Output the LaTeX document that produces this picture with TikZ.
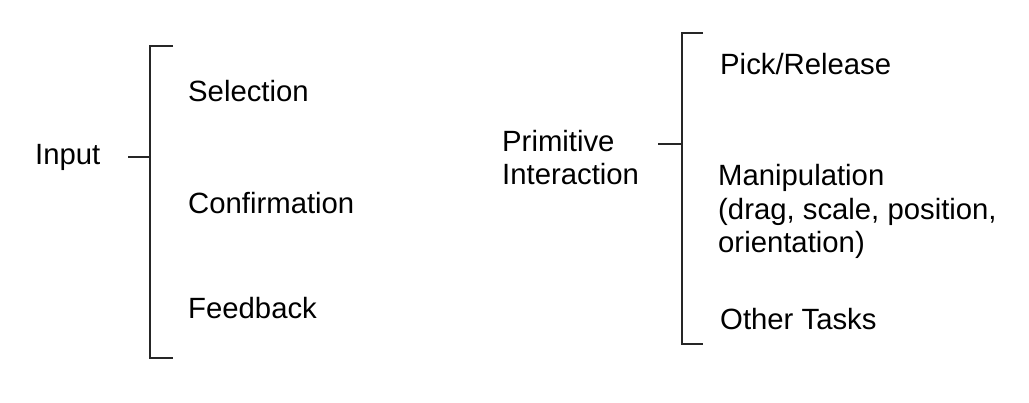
\documentclass[tikz,border=0pt]{standalone}
\usepackage{fontspec}
\setmainfont{Liberation Sans}
\begin{document}
\begin{tikzpicture}[x=1pt,y=-1pt,
  lbl/.style={inner sep=0pt, font=\fontsize{29.3}{33.5}\selectfont, anchor=base west, align=left},
  brk/.style={line width=1.6pt, black!85}]
\useasboundingbox (0,0) rectangle (1029,403);
% left group
\node[lbl] (input) at (35,165) {Input};
\node[lbl] (sel) at (188,102) {Selection};
\node[lbl] (conf) at (188,214) {Confirmation};
\node[lbl] (feed) at (188,319) {Feedback};
\coordinate (lt) at (173,46);
\coordinate (lb) at (173,358);
\coordinate (lm) at (150,157);
\coordinate (ls) at (128,157);
\draw[brk] (lt) -- (150,46) -- (150,358) -- (lb);
\draw[brk] (ls) -- (lm);
% right group (base anchor = baseline of last line)
\node[lbl] (prim) at (502,185) {Primitive\\Interaction};
\node[lbl] (pick) at (720,75) {Pick/Release};
\node[lbl] (manip) at (718,253) {Manipulation\\(drag, scale, position,\\orientation)};
\node[lbl] (other) at (720,330) {Other Tasks};
\coordinate (rt) at (703,33);
\coordinate (rb) at (703,344);
\coordinate (rm) at (682,144);
\coordinate (rs) at (658,144);
\draw[brk] (rt) -- (682,33) -- (682,344) -- (rb);
\draw[brk] (rs) -- (rm);
\end{tikzpicture}
\end{document}
